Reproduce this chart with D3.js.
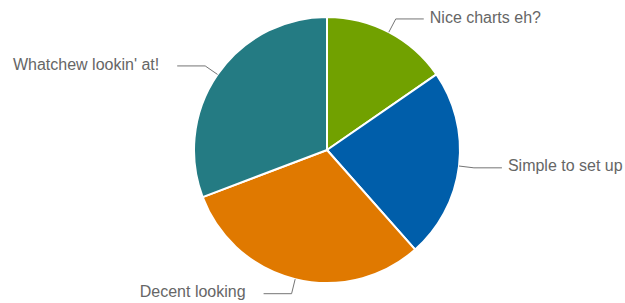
<!DOCTYPE html>
<html>
<head>
<meta charset="utf-8">
<script src="https://cdn.jsdelivr.net/npm/d3@7"></script>
<style>
  body { margin: 0; background: #fff; }
  text { font-family: "Liberation Sans", Arial, sans-serif; }
</style>
</head>
<body>
<svg id="chart" width="625" height="303"></svg>
<script>
// slices, clockwise from 12 o'clock
const labels = ["Nice charts eh?", "Simple to set up", "Decent looking", "Whatchew lookin' at!"];
const values = [2, 3, 4, 4];
const colors = ["#71a100", "#005eaa", "#e07900", "#247b83"];

const width = 625, height = 303;
const cx = 327, cy = 150, radius = 133;

const svg = d3.select("#chart");
const g = svg.append("g").attr("transform", `translate(${cx},${cy})`);

const pie = d3.pie().sort(null).value(d => d.value);
const data = labels.map((l, i) => ({ label: l, value: values[i], color: colors[i] }));
const arcs = pie(data);

const arc = d3.arc().innerRadius(0).outerRadius(radius);

g.selectAll("path.slice")
  .data(arcs)
  .enter().append("path")
  .attr("class", "slice")
  .attr("d", arc)
  .attr("fill", d => d.data.color)
  .attr("stroke", "#fff")
  .attr("stroke-width", 2)
  .attr("stroke-linejoin", "round");

// label lines: radial bit then horizontal bit
const lineLen1 = 15, lineLen2 = 28;
const pt = (a, r) => [r * Math.sin(a), -r * Math.cos(a)];

arcs.forEach(d => {
  const mid = (d.startAngle + d.endAngle) / 2;
  const p0 = pt(mid, radius);
  const p1 = pt(mid, radius + lineLen1);
  const right = Math.sin(mid) >= 0;
  const p2 = [p1[0] + (right ? lineLen2 : -lineLen2), p1[1]];

  g.append("path")
    .attr("d", d3.line()([p0, p1, p2]))
    .attr("fill", "none")
    .attr("stroke", "#757575")
    .attr("stroke-width", 1);

  // left hand labels sit further off the line in the original
  g.append("text")
    .attr("x", p2[0] + (right ? 6 : -18))
    .attr("y", p2[1] - 2)
    .attr("dy", "0.35em")
    .attr("text-anchor", right ? "start" : "end")
    .attr("font-size", 16)
    .attr("fill", "#666")
    .text(d.data.label);
});
</script>
</body>
</html>
